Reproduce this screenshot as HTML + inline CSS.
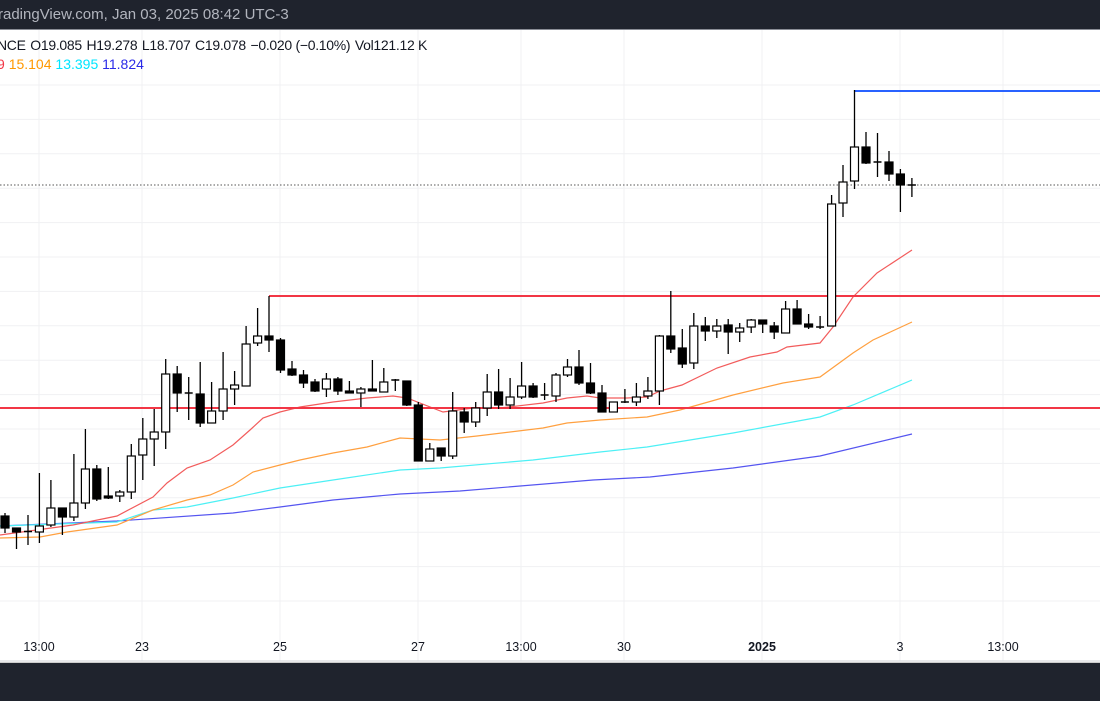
<!DOCTYPE html>
<html><head><meta charset="utf-8"><style>
html,body{margin:0;padding:0;background:#fff;width:1100px;height:700px;overflow:hidden;font-family:"Liberation Sans",sans-serif}
#top{position:absolute;left:0;top:0;width:1100px;height:29px;background:#1f232d;border-bottom:1px solid #8a8d96}
#top span{position:absolute;left:-2px;top:6px;color:#b2b5be;font-size:15px;white-space:nowrap}
#bot{position:absolute;left:0;top:662px;width:1100px;height:38px;background:#1f232d;border-top:1px solid #ccc}
.l1{position:absolute;left:-3px;top:37px;font-size:14px;color:#131722;white-space:nowrap;letter-spacing:-0.3px}
.l1 b{font-weight:normal;margin-right:1px}
.l2{position:absolute;left:-3px;top:56px;font-size:14px;white-space:nowrap}
.ax{position:absolute;top:640px;font-size:12.5px;color:#131722;transform:translateX(-50%)}
svg{position:absolute;left:0;top:0}
</style></head><body>
<svg id="s" width="1100" height="700"></svg>
<div id="top"><span>radingView.com, Jan 03, 2025 08:42 UTC-3</span></div>
<div class="l1"><b>NCE</b> <b>O19.085</b> <b>H19.278</b> <b>L18.707</b> <b>C19.078</b> <b>−0.020 (−0.10%)</b> <b>Vol121.12 K</b></div>
<div class="l2"><span style="color:#f23645">9</span> <span style="color:#ff9800">15.104</span> <span style="color:#00e5ff">13.395</span> <span style="color:#2a2ae8">11.824</span></div>
<div class="ax" style="left:39px">13:00</div>
<div class="ax" style="left:142px">23</div>
<div class="ax" style="left:280px">25</div>
<div class="ax" style="left:418px">27</div>
<div class="ax" style="left:521px">13:00</div>
<div class="ax" style="left:624px">30</div>
<div class="ax" style="left:762px;font-weight:bold">2025</div>
<div class="ax" style="left:900px">3</div>
<div class="ax" style="left:1003px">13:00</div>
<div id="bot"></div>
<script>
var s=document.getElementById('s'),h='';
[39,142,280,418,521,624,762,900,1003].forEach(function(x){h+='<line x1="'+x+'" y1="30" x2="'+x+'" y2="661" stroke="#f0f1f3"/>';});
for(var y=85;y<620;y+=34.4)h+='<line x1="0" y1="'+y+'" x2="1100" y2="'+y+'" stroke="#f0f1f3"/>';
h+='<line x1="0" y1="661" x2="1100" y2="661" stroke="#d0d2d6"/>';
h+='<line x1="0" y1="185" x2="1100" y2="185" stroke="#555" stroke-dasharray="1.5,2"/>';
function pl(p,c){h+='<polyline fill="none" stroke="'+c+'" stroke-width="1.2" points="'+p+'"/>';}
pl("0,526 117,521 233,513 280,507 333,500 400,494 460,491 593,480 650,477 733,468 820,456 912,434","#5555f0");
pl("0,526 117,522 153,510 187,507 233,498 280,488 333,480 400,470 440,468 533,460 600,452 647,447 733,433 820,417 853,405 912,380","#4df0f5");
pl("0,538 40,537 67,532 117,525 153,510 187,500 210,495 233,485 253,472 280,465 300,460 333,453 367,447 400,438 440,440 477,436 543,428 567,423 600,420 647,417 680,410 733,395 783,383 820,377 853,353 873,340 912,322","#ffa040");
pl("0,535 73,525 117,516 153,497 167,483 187,468 210,460 233,445 250,430 263,418 280,412 300,407 333,402 367,398 393,396 407,398 443,412 473,408 500,408 543,403 567,398 587,396 600,398 627,398 647,397 660,391 682,385 717,368 750,357 777,352 787,347 820,343 833,327 853,297 877,273 912,250","#f25c5c");
h+='<line x1="0" y1="408" x2="1100" y2="408" stroke="#f23645" stroke-width="2"/>';
h+='<line x1="269" y1="296" x2="1100" y2="296" stroke="#f23645" stroke-width="2"/>';
h+='<line x1="854" y1="91" x2="1100" y2="91" stroke="#2962ff" stroke-width="2"/>';
var C=[[516,528,513,533],[528,532,528,549],[531.5,532,515,545],[532,526,473,543],[525,508,480,527],[508,517,508,535],[517,503,454,521],[503,469,429,509],[469,499,465,501],[496,498,467,499],[496,492,490,502],[492,456,444,499],[455,439,418,480],[439,432,409,466],[432,374,359,449],[374,393,366,412],[393,394,377,420],[394,423,362,427],[423,411,382,423],[411,389,352,420],[389,385,371,405],[386,344,326,386],[343,336,308,346],[336,340,296,352],[340,370,338,373],[369,375,361,376],[375,383,370,388],[382,391,379,392],[389,379,373,397],[379,391,377,395],[391,393,381,393],[393,389,387,407],[389,391,360,391],[392,382,368,392],[380,380,379,391],[381,405,381,406],[405,461,402,461],[461,449,443,461],[448,456,448,461],[456,411,392,459],[412,422,408,433],[422,408,402,427],[408,392,374,416],[392,405,369,409],[405,397,378,409],[397,386,362,399],[386,397,383,398],[395,395,383,400],[396,375,373,402],[375,367,359,377],[367,383,350,385],[383,393,363,394],[393,412,385,412],[412,402,402,412],[402,402,389,403],[402,397,383,406],[396,391,377,399],[391,336,335,405],[336,349,291,353],[348,364,329,368],[363,326,313,369],[326,331,317,341],[331,326,319,338],[325,332,319,354],[332,328,323,342],[327,320,319,333],[320,324,320,333],[326,332,322,339],[333,309,301,333],[309,324,300,324],[324,327,314,329],[327,327,316,329],[326,204,195,326],[203,182,165,217],[181,147,90,189],[147,163,132,164],[162,162,133,177],[162,174,151,181],[174,185,169,212],[185,185,178,197]];
C.forEach(function(c,i){var x=(5+11.48*i).toFixed(1),o=c[0],cl=c[1];
h+='<line x1="'+x+'" y1="'+c[2]+'" x2="'+x+'" y2="'+c[3]+'" stroke="#000" stroke-width="1.3"/>';
var t=Math.min(o,cl),b=Math.max(o,cl);
if(b-t<1.5){h+='<line x1="'+(x-4)+'" y1="'+t+'" x2="'+(+x+4)+'" y2="'+t+'" stroke="#000" stroke-width="1.5"/>';}
else h+='<rect x="'+(x-4)+'" y="'+t+'" width="8" height="'+(b-t)+'" fill="'+(cl>o?'#000':'#fff')+'" stroke="#000" stroke-width="1.2"/>';});
s.innerHTML=h;
</script>
</body></html>
